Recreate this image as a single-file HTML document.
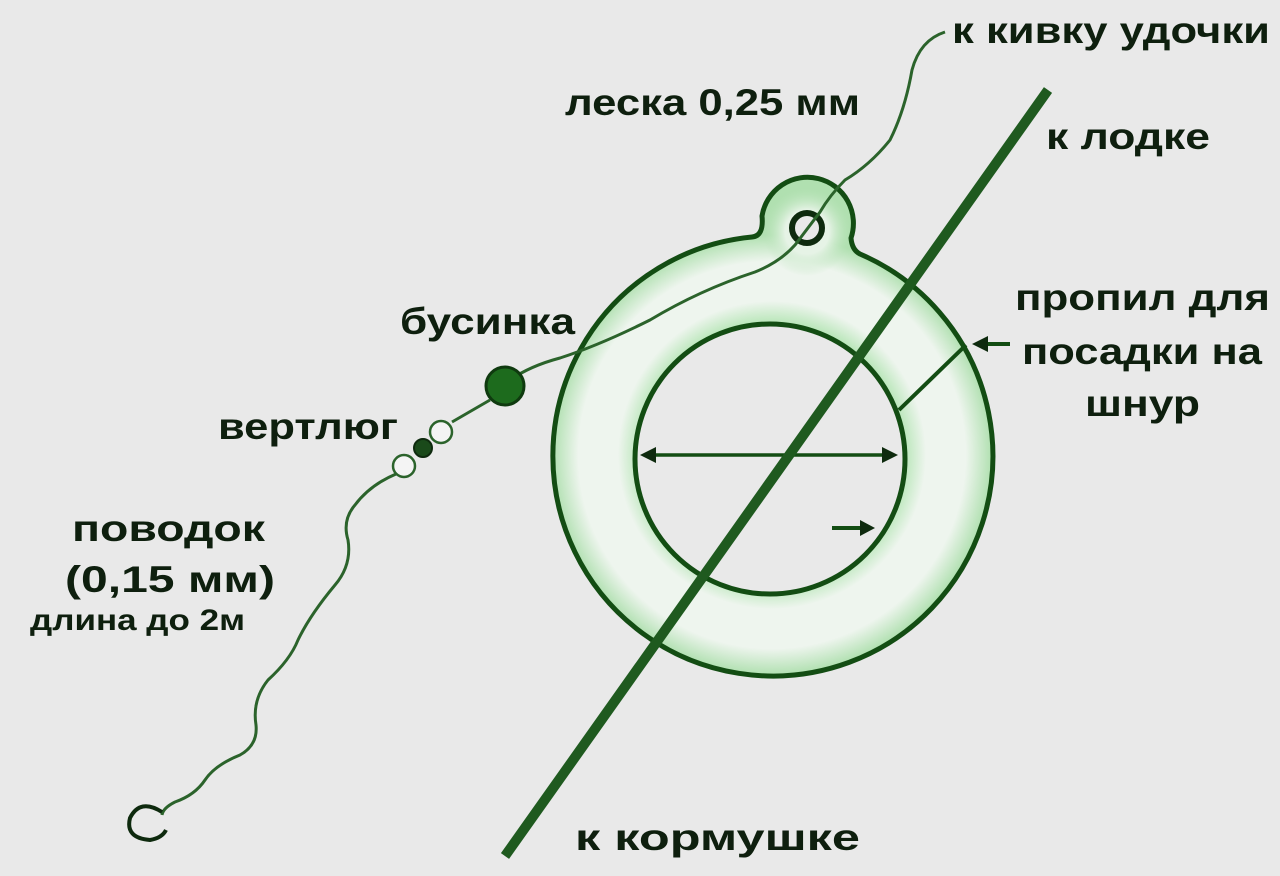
<!DOCTYPE html>
<html><head><meta charset="utf-8"><style>
html,body{margin:0;padding:0;background:#e9e9e9;}
svg{display:block}
text{font-family:"Liberation Sans",sans-serif;font-weight:bold;fill:#0e1f0e;}
</style></head><body>
<svg width="1280" height="876" viewBox="0 0 1280 876" xmlns="http://www.w3.org/2000/svg">
<defs>
<radialGradient id="rg" cx="772" cy="455" r="220" gradientUnits="userSpaceOnUse">
<stop offset="0.6" stop-color="#b8e6b8"/><stop offset="0.7" stop-color="#eef5ee"/><stop offset="0.88" stop-color="#eef5ee"/><stop offset="1" stop-color="#b0e0b0"/>
</radialGradient>
<radialGradient id="eg" cx="807" cy="232" r="44" gradientUnits="userSpaceOnUse">
<stop offset="0.5" stop-color="#e6f3e6"/><stop offset="1" stop-color="#b8e3b8" stop-opacity="0"/>
</radialGradient>
</defs>
<rect width="1280" height="876" fill="#e9e9e9"/>
<path d="M752,237 Q764,236 762,216 A46,46 0 1 1 851,238 Q852,250 860,254 A220,220 0 1 1 752,237 Z" fill="url(#rg)" stroke="#134d13" stroke-width="5"/>
<circle cx="807" cy="232" r="44" fill="url(#eg)"/>
<circle cx="807" cy="228" r="15" fill="#e9e9e9" stroke="#0e2a0e" stroke-width="6"/>
<circle cx="770" cy="459" r="135" fill="#e9e9e9" stroke="#134d13" stroke-width="5"/>
<!-- slit -->
<line x1="899" y1="410" x2="966" y2="345" stroke="#134d13" stroke-width="4"/>
<line x1="1010" y1="344" x2="985" y2="344" stroke="#134d13" stroke-width="4"/>
<polygon points="972,344 988,336 988,352" fill="#0e2a0e"/>
<!-- diameter arrows -->
<line x1="648" y1="455" x2="890" y2="455" stroke="#134d13" stroke-width="3.5"/>
<polygon points="640,455 656,447 656,463" fill="#0e2a0e"/>
<polygon points="898,455 882,447 882,463" fill="#0e2a0e"/>
<line x1="832" y1="528" x2="862" y2="528" stroke="#134d13" stroke-width="4"/>
<polygon points="875,528 860,520 860,536" fill="#0e2a0e"/>
<!-- main cord -->
<line x1="1048" y1="90" x2="505" y2="856" stroke="#1f5a1f" stroke-width="10"/>
<!-- fishing line -->
<path d="M945 32 Q920 40 912 70 Q905 110 890 140 Q870 165 845 180 Q830 195 820 212 L795 245 Q780 262 755 272 Q700 290 650 320 Q600 345 560 358 Q530 366 510 380" stroke="#2b632b" stroke-width="3" fill="none"/>
<!-- bead -->
<circle cx="505" cy="386" r="19" fill="#1d6b1d" stroke="#0f3a0f" stroke-width="3"/>
<line x1="490" y1="400" x2="452" y2="422" stroke="#2b632b" stroke-width="3"/>
<!-- swivel -->
<circle cx="441" cy="432" r="11" fill="#f4f4f4" stroke="#2b632b" stroke-width="2.5"/>
<circle cx="404" cy="466" r="11" fill="#f4f4f4" stroke="#2b632b" stroke-width="2.5"/>
<circle cx="423" cy="448" r="9" fill="#1a4a1a" stroke="#0e2a0e" stroke-width="2"/>
<!-- leader -->
<path d="M396 474 Q370 485 355 505 Q342 520 348 540 Q352 565 335 585 Q310 615 298 640 Q290 660 268 680 Q252 700 256 725 Q258 745 240 755 Q215 765 205 780 Q195 795 175 802 Q163 808 162 815" stroke="#2b632b" stroke-width="3" fill="none"/>
<path d="M162 812 Q140 798 130 818 Q125 838 150 840 Q162 838 166 830" stroke="#0e2a0e" stroke-width="4" fill="none"/>
<!-- labels -->
<text x="952" y="43" font-size="37" textLength="318" lengthAdjust="spacingAndGlyphs">к кивку удочки</text>
<text x="565" y="115" font-size="37" textLength="295" lengthAdjust="spacingAndGlyphs">леска 0,25 мм</text>
<text x="1046" y="149" font-size="37" textLength="164" lengthAdjust="spacingAndGlyphs">к лодке</text>
<text x="1015" y="310" font-size="37" textLength="255" lengthAdjust="spacingAndGlyphs">пропил для</text>
<text x="1022" y="364" font-size="37" textLength="240" lengthAdjust="spacingAndGlyphs">посадки на</text>
<text x="1085" y="416" font-size="37" textLength="115" lengthAdjust="spacingAndGlyphs">шнур</text>
<text x="400" y="334" font-size="37" textLength="175" lengthAdjust="spacingAndGlyphs">бусинка</text>
<text x="218" y="439" font-size="37" textLength="180" lengthAdjust="spacingAndGlyphs">вертлюг</text>
<text x="72" y="541" font-size="37" textLength="193" lengthAdjust="spacingAndGlyphs">поводок</text>
<text x="65" y="592" font-size="37" textLength="210" lengthAdjust="spacingAndGlyphs">(0,15 мм)</text>
<text x="30" y="630" font-size="30" textLength="215" lengthAdjust="spacingAndGlyphs">длина до 2м</text>
<text x="575" y="850" font-size="37" textLength="285" lengthAdjust="spacingAndGlyphs">к кормушке</text>
</svg>
</body></html>
